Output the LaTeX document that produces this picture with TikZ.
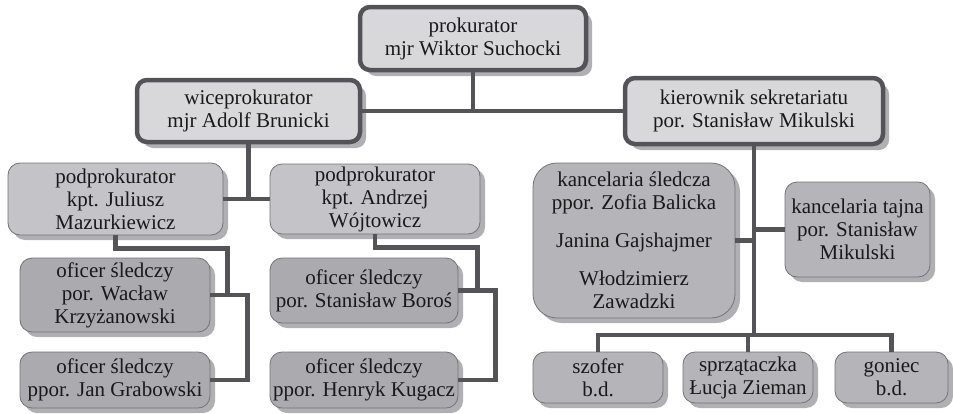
\documentclass[tikz,border=0pt]{standalone}
\usepackage{fontspec}
\setmainfont{Liberation Serif}
\usetikzlibrary{shadows}

\definecolor{linegray}{HTML}{545458}
\definecolor{topfill}{HTML}{D8D8DA}
\definecolor{midfill}{HTML}{C4C4C8}
\definecolor{lowfill}{HTML}{ABABAF}
\definecolor{shadegray}{HTML}{B0B0B4}

\begin{document}
\begin{tikzpicture}[x=1pt,y=-1pt,
	every node/.style={align=center,inner sep=1pt,text=black!90,
		font=\fontsize{21}{23}\selectfont},
	chief/.style={rectangle,rounded corners=10pt,draw=linegray,line width=4.5pt,fill=topfill,
		drop shadow={shadow xshift=6pt,shadow yshift=-6pt,fill=shadegray,opacity=1}},
	unit/.style={rectangle,rounded corners=12pt,draw=black!55,line width=0.8pt,fill=midfill,
		drop shadow={shadow xshift=5pt,shadow yshift=-5pt,fill=shadegray,opacity=1}},
	officer/.style={unit,fill=lowfill},
	office/.style={unit,fill=lowfill!60!midfill},
	link/.style={draw=linegray,line width=4.5pt}]

	\useasboundingbox (0,0) rectangle (953,413);

	% kierownictwo
	\node[chief,minimum width=226pt,minimum height=63pt] (prok) at (473,38.5)
		{prokurator\\mjr Wiktor Suchocki};
	\node[chief,minimum width=223pt,minimum height=62pt] (wice) at (248.5,111)
		{wiceprokurator\\mjr Adolf Brunicki};
	\node[chief,minimum width=258pt,minimum height=66pt] (kier) at (754,111)
		{kierownik sekretariatu\\por. Stanisław Mikulski};

	% lewa galaz
	\node[unit,minimum width=215pt,minimum height=72pt] (podJ) at (115.5,199)
		{podprokurator\\kpt. Juliusz\\Mazurkiewicz};
	\node[unit,minimum width=210pt,minimum height=70pt] (podA) at (375,199)
		{podprokurator\\kpt. Andrzej\\Wójtowicz};
	\node[officer,minimum width=190pt,minimum height=74pt] (ofW) at (115,295)
		{oficer śledczy\\por. Wacław\\Krzyżanowski};
	\node[officer,minimum width=190pt,minimum height=56pt] (ofJ) at (115,380)
		{oficer śledczy\\ppor. Jan Grabowski};
	\node[officer,minimum width=188pt,minimum height=65pt] (ofB) at (364,290.5)
		{oficer śledczy\\por. Stanisław Boroś};
	\node[officer,minimum width=188pt,minimum height=56pt] (ofK) at (364,380)
		{oficer śledczy\\ppor. Henryk Kugacz};

	% sekretariat
	\node[office,rounded corners=24pt,minimum width=202pt,minimum height=155pt] (kS) at (634,240.5)
		{kancelaria śledcza\\ppor. Zofia Balicka\\[15pt]Janina Gajshajmer\\[15pt]Włodzimierz\\Zawadzki};
	\node[office,minimum width=145pt,minimum height=95pt] (kT) at (857.5,229.5)
		{kancelaria tajna\\por. Stanisław\\Mikulski};
	\node[office,minimum width=130pt,minimum height=51pt] (szof) at (598,377.5)
		{szofer\\b.d.};
	\node[office,minimum width=130pt,minimum height=51pt] (sprz) at (748,377.5)
		{sprzątaczka\\Łucja Zieman};
	\node[office,minimum width=113pt,minimum height=51pt] (gon) at (891.5,377.5)
		{goniec\\b.d.};

	\coordinate (bus) at (754,335);

	\draw[link] (prok.south) -- (prok.south |- wice.east);
	\draw[link] (wice.east) -- (kier.west);
	\draw[link] (wice.south) -- (wice.south |- podJ.east);
	\draw[link] (podJ.east) -- (podA.west);

	\draw[link] (podJ.south) -- ++(0,13) -| ([xshift=17pt]ofW.east) -- (ofW.east);
	\draw[link] (ofW.east) -- ++(37,0) |- (ofJ.east);
	\draw[link] (podA.south) -- ++(0,13) -| ([xshift=19pt]ofB.east) -- (ofB.east);
	\draw[link] (ofB.east) -- ++(37,0) |- (ofK.east);

	\draw[link] (kier.south) -- (bus);
	\draw[link] (kS.east) -- (kS.east -| bus);
	\draw[link] (kT.west) -- (kT.west -| bus);
	\draw[link] (szof.north) |- (bus) -| (gon.north);
	\draw[link] (sprz.north) -- (sprz.north |- bus);
\end{tikzpicture}
\end{document}
